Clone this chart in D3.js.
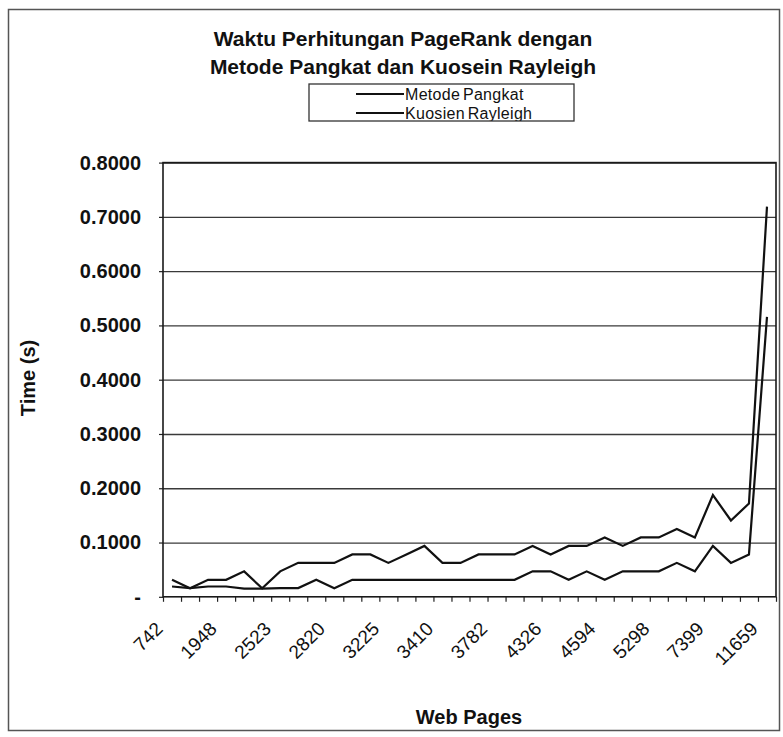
<!DOCTYPE html>
<html>
<head>
<meta charset="utf-8">
<script src="https://cdn.jsdelivr.net/npm/d3@7"></script>
<style>
  html, body { margin: 0; padding: 0; background: #fff; }
  svg { display: block; }
  text { font-family: Arial, "Liberation Sans", Helvetica, sans-serif; fill: #111; }
</style>
</head>
<body>
<svg id="chart" width="783" height="737"></svg>
<script>
// Computation time (seconds) per data set, in order of web-page count
const metodePangkat = [0.0313, 0.0156, 0.0313, 0.0313, 0.0469, 0.0156, 0.0469, 0.0625, 0.0625, 0.0625,
                       0.0781, 0.0781, 0.0625, 0.0781, 0.0938, 0.0625, 0.0625, 0.0781, 0.0781, 0.0781,
                       0.0938, 0.0781, 0.0938, 0.0938, 0.1094, 0.0938, 0.1094, 0.1094, 0.1250, 0.1094,
                       0.1875, 0.1406, 0.1719, 0.7188];
const kuosienRayleigh = [0.0190, 0.0160, 0.0190, 0.0190, 0.0150, 0.0150, 0.0160, 0.0160, 0.0313, 0.0156,
                         0.0313, 0.0313, 0.0313, 0.0313, 0.0313, 0.0313, 0.0313, 0.0313, 0.0313, 0.0313,
                         0.0469, 0.0469, 0.0313, 0.0469, 0.0313, 0.0469, 0.0469, 0.0469, 0.0625, 0.0469,
                         0.0938, 0.0625, 0.0781, 0.5156];
// Category labels shown on the x axis (every third data set)
const tickLabels = ["742", "1948", "2523", "2820", "3225", "3410", "3782", "4326", "4594", "5298", "7399", "11659"];
const labelStep = 3;
const yTicks = [0, 0.1, 0.2, 0.3, 0.4, 0.5, 0.6, 0.7, 0.8];
const seriesNames = ["Metode Pangkat", "Kuosien Rayleigh"];
const titleLines = ["Waktu Perhitungan PageRank dengan", "Metode Pangkat dan Kuosein Rayleigh"];

const svg = d3.select("#chart");
const plot = { left: 163, right: 776, top: 162.6, bottom: 596.8 };
const n = metodePangkat.length;

const xBand = d3.scaleBand().domain(d3.range(n)).range([plot.left, plot.right]).paddingInner(0).paddingOuter(0);
const xEdge = d3.scaleLinear().domain([0, n]).range([plot.left, plot.right]);
const y = d3.scaleLinear().domain([0, 0.8]).range([plot.bottom, plot.top]);
const cx = i => xBand(i) + xBand.bandwidth() / 2;

// outer chart frame
svg.append("rect")
  .attr("x", 8.5).attr("y", 9.5).attr("width", 771).attr("height", 721)
  .attr("fill", "#fff").attr("stroke", "#555").attr("stroke-width", 1.5);

// title
svg.append("g").selectAll("text").data(titleLines).join("text")
  .attr("x", 403).attr("y", (d, i) => 46 + i * 27.5)
  .attr("text-anchor", "middle")
  .style("font-size", "21px").style("font-weight", "bold")
  .text(d => d);

// gridlines
svg.append("g")
  .attr("transform", `translate(${plot.left},0)`)
  .call(d3.axisLeft(y).tickValues(yTicks.slice(1)).tickSize(-(plot.right - plot.left)).tickFormat(""))
  .call(g => g.select(".domain").remove())
  .call(g => g.selectAll("line").attr("stroke", "#3a3a3a").attr("stroke-width", 1.3));

// y axis labels
svg.append("g")
  .attr("transform", `translate(${plot.left},0)`)
  .call(d3.axisLeft(y).tickValues(yTicks).tickSize(4).tickPadding(18)
        .tickFormat(v => v === 0 ? "-" : d3.format(".4f")(v)))
  .call(g => g.select(".domain").remove())
  .call(g => g.selectAll("line").attr("stroke", "#222").attr("stroke-width", 1.2))
  .call(g => g.selectAll("text").style("font-size", "20px").style("font-weight", "bold")
        .attr("fill", "#111").style("font-family", "Arial, 'Liberation Sans', sans-serif"));

// x axis tick marks at category boundaries
svg.append("g")
  .attr("transform", `translate(0,${plot.bottom})`)
  .call(d3.axisBottom(xEdge).tickValues(d3.range(n + 1)).tickSize(5).tickFormat(""))
  .call(g => g.select(".domain").remove())
  .call(g => g.selectAll("line").attr("stroke", "#222").attr("stroke-width", 1.2));

// plot area border
svg.append("rect")
  .attr("x", plot.left).attr("y", plot.top)
  .attr("width", plot.right - plot.left).attr("height", plot.bottom - plot.top)
  .attr("fill", "none").attr("stroke", "#1a1a1a").attr("stroke-width", 1.6);

// x tick labels, rotated
svg.append("g").selectAll("text").data(tickLabels).join("text")
  .attr("transform", (d, k) => `translate(${cx(k * labelStep) - 8},630) rotate(-45)`)
  .attr("text-anchor", "end")
  .style("font-size", "19px")
  .text(d => d);

// series lines
const line = d3.line().x((d, i) => cx(i)).y(d => y(d));
svg.append("g").selectAll("path").data([metodePangkat, kuosienRayleigh]).join("path")
  .attr("d", d => line(d))
  .attr("fill", "none").attr("stroke", "#111").attr("stroke-width", 2.2)
  .attr("stroke-linejoin", "miter");

// axis titles
svg.append("text")
  .attr("transform", `translate(35,378) rotate(-90)`)
  .attr("text-anchor", "middle")
  .style("font-size", "20px").style("font-weight", "bold")
  .text("Time (s)");
svg.append("text")
  .attr("x", 469).attr("y", 723.5)
  .attr("text-anchor", "middle")
  .style("font-size", "20px").style("font-weight", "bold")
  .text("Web Pages");

// legend
const lg = { x: 309, y: 84, w: 265, h: 37 };
const legendLineY = [94, 113];
const legendTextY = [99.5, 118.5];
svg.append("clipPath").attr("id", "legend-clip")
  .append("rect").attr("x", lg.x).attr("y", lg.y).attr("width", lg.w).attr("height", lg.h);
const legend = svg.append("g");
legend.append("rect")
  .attr("x", lg.x).attr("y", lg.y).attr("width", lg.w).attr("height", lg.h)
  .attr("fill", "#fff");
const items = legend.append("g").attr("clip-path", "url(#legend-clip)")
  .selectAll("g").data(seriesNames).join("g");
items.append("line")
  .attr("x1", 356).attr("x2", 404)
  .attr("y1", (d, i) => legendLineY[i]).attr("y2", (d, i) => legendLineY[i])
  .attr("stroke", "#111").attr("stroke-width", 2);
items.append("text")
  .attr("x", 405).attr("y", (d, i) => legendTextY[i])
  .style("font-size", "16px").style("letter-spacing", "0.3px").style("word-spacing", "-2px")
  .text(d => d);
legend.append("rect")
  .attr("x", lg.x).attr("y", lg.y).attr("width", lg.w).attr("height", lg.h)
  .attr("fill", "none").attr("stroke", "#333").attr("stroke-width", 1.3);
</script>
</body>
</html>
